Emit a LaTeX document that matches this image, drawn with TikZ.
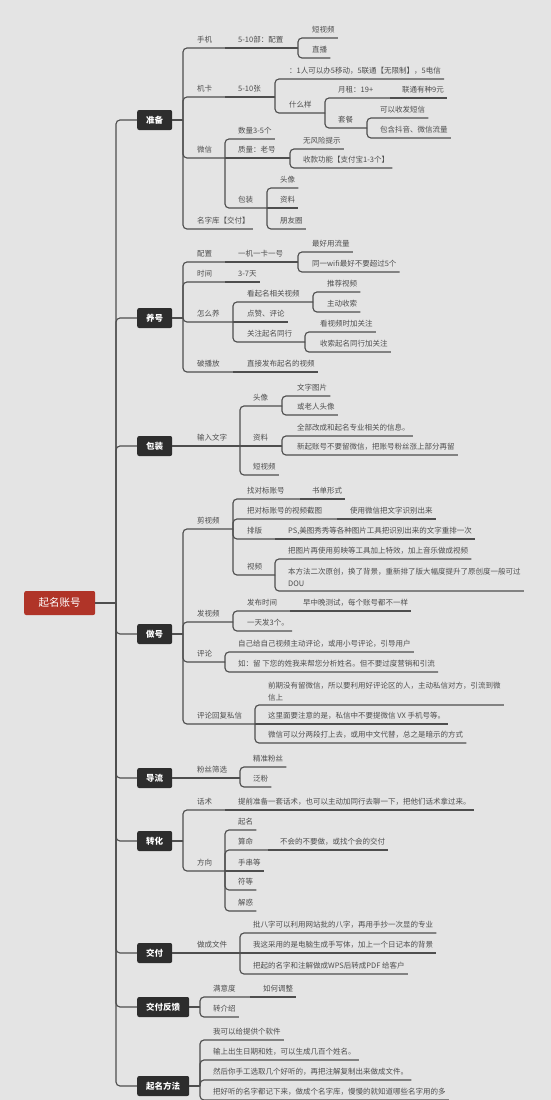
\documentclass[tikz,border=0pt]{standalone}
\usepackage{fontspec}
\setmainfont{Noto Sans CJK SC}
\usepackage{tikz}
\usepackage{xcolor}
\usetikzlibrary{calc}
\definecolor{bggray}{RGB}{228,228,228}
\definecolor{linegray}{RGB}{78,78,78}
\definecolor{textgray}{RGB}{78,78,78}
\definecolor{boxdark}{RGB}{45,45,45}
\definecolor{rootred}{RGB}{176,52,40}
\tikzset{
  nodetxt/.style={anchor=south west,inner xsep=0pt,inner ysep=5pt,font=\fontsize{7.5}{12}\selectfont,text=textgray},
  lbl/.style={nodetxt,text depth=0pt},
  lbl2/.style={nodetxt,align=left,inner ysep=4pt},
  catbox/.style={fill=boxdark,rounded corners=2pt,text=white,font=\fontsize{8.5}{10}\selectfont\bfseries,minimum height=20pt,inner xsep=9pt,anchor=west},
  rootbox/.style={fill=rootred,rounded corners=2pt,text=white,font=\fontsize{10.5}{12}\selectfont,minimum height=24pt,inner xsep=14.5pt,anchor=west},
  conn/.style={draw=linegray,line width=1.15pt,rounded corners=4pt}
}

\begin{document}
\begin{tikzpicture}[x=1pt,y=-1pt]
  \fill[bggray] (0,0) rectangle (551,1100);
  \useasboundingbox (0,0) rectangle (551,1100);
  \clip (0,0) rectangle (551,1100);

  \node[rootbox] (root) at (24,603) {起名账号};
  \node[catbox] (zb) at (137,120) {准备};
  \node[catbox] (yh) at (137,318) {养号};
  \node[catbox] (bz) at (137,446) {包装};
  \node[catbox] (zuo) at (137,634) {做号};
  \node[catbox] (dl) at (137,778) {导流};
  \node[catbox] (zhh) at (137,841) {转化};
  \node[catbox] (jf) at (137,953) {交付};
  \node[catbox] (fk) at (137,1007) {交付反馈};
  \node[catbox] (ff) at (137,1086) {起名方法};

  \coordinate (trunk) at (116,603);
  \draw[conn] (root.east) -- (trunk);
  \draw[conn] (trunk) |- (zb.west);
  \draw[conn] (trunk) |- (yh.west);
  \draw[conn] (trunk) |- (bz.west);
  \draw[conn] (trunk) |- (zuo.west);
  \draw[conn] (trunk) |- (dl.west);
  \draw[conn] (trunk) |- (zhh.west);
  \draw[conn] (trunk) |- (jf.west);
  \draw[conn] (trunk) |- (fk.west);
  \draw[conn] (trunk) |- (ff.west);

  \coordinate (zb-b) at (183,120);
  \coordinate (yh-b) at (183,318);
  \coordinate (bz-b) at (183,446);
  \coordinate (zuo-b) at (183,634);
  \coordinate (dl-b) at (183,778);
  \coordinate (zhh-b) at (183,841);
  \coordinate (jf-b) at (183,953);
  \coordinate (fk-b) at (200,1007);
  \coordinate (ff-b) at (200,1086);
  \draw[conn] (zb.east) -- (zb-b);
  \draw[conn] (yh.east) -- (yh-b);
  \draw[conn] (bz.east) -- (bz-b);
  \draw[conn] (zuo.east) -- (zuo-b);
  \draw[conn] (dl.east) -- (dl-b);
  \draw[conn] (zhh.east) -- (zhh-b);
  \draw[conn] (jf.east) -- (jf-b);
  \draw[conn] (fk.east) -- (fk-b);
  \draw[conn] (ff.east) -- (ff-b);

  \node[lbl] (sj) at (197,48) {手机};
  \node[lbl] (pz) at (238,48) {5-10部：配置};
  \node[lbl] (dsp) at (312,38) {短视频};
  \node[lbl] (zbo) at (312,58) {直播};
  \node[lbl] (jk) at (197,97) {机卡};
  \node[lbl] (zs) at (238,97) {5-10张};
  \node[lbl] (yr) at (289,79) {：1人可以办5移动，5联通【无限制】，5电信};
  \node[lbl] (smy) at (289,113) {什么样};
  \node[lbl] (yz) at (338,98) {月租：19+};
  \node[lbl] (lt) at (402,98) {联通有种9元};
  \node[lbl] (tc) at (338,128) {套餐};
  \node[lbl] (sfdx) at (380,118) {可以收发短信};
  \node[lbl] (bhdy) at (380,138) {包含抖音、微信流量};
  \node[lbl] (wx) at (197,158) {微信};
  \node[lbl] (sl) at (238,139) {数量3-5个};
  \node[lbl] (zl) at (238,158) {质量：老号};
  \node[lbl] (wfx) at (303,149) {无风险提示};
  \node[lbl] (sk) at (303,168) {收款功能【支付宝1-3个】};
  \node[lbl] (wxbz) at (238,208) {包装};
  \node[lbl] (tx) at (280,188) {头像};
  \node[lbl] (zliao) at (280,208) {资料};
  \node[lbl] (pyq) at (280,229) {朋友圈};
  \node[lbl] (mzk) at (197,229) {名字库【交付】};
  \coordinate (sj-b) at (225,48);
  \coordinate (pz-b) at (298,48);
  \coordinate (jk-b) at (225,97);
  \coordinate (zs-b) at (275,97);
  \coordinate (smy-b) at (325,113);
  \coordinate (yz-b) at (390,98);
  \coordinate (tc-b) at (367,128);
  \coordinate (wx-b) at (225,158);
  \coordinate (zl-b) at (290,158);
  \coordinate (wxbz-b) at (267,208);
  \draw[conn] (zb-b) |- (sj-b);
  \draw[conn] (sj-b) -- (pz-b);
  \draw[conn] (pz-b) |- ([xshift=3pt]dsp.south east);
  \draw[conn] (pz-b) |- ([xshift=3pt]zbo.south east);
  \draw[conn] (zb-b) |- (jk-b);
  \draw[conn] (jk-b) -- (zs-b);
  \draw[conn] (zs-b) |- ([xshift=3pt]yr.south east);
  \draw[conn] (zs-b) |- (smy-b);
  \draw[conn] (smy-b) |- (yz-b);
  \draw[conn] (yz-b) -- ([xshift=3pt]lt.south east);
  \draw[conn] (smy-b) |- (tc-b);
  \draw[conn] (tc-b) |- ([xshift=3pt]sfdx.south east);
  \draw[conn] (tc-b) |- ([xshift=3pt]bhdy.south east);
  \draw[conn] (zb-b) |- (wx-b);
  \draw[conn] (wx-b) |- ([xshift=3pt]sl.south east);
  \draw[conn] (wx-b) -- (zl-b);
  \draw[conn] (zl-b) |- ([xshift=3pt]wfx.south east);
  \draw[conn] (zl-b) |- ([xshift=3pt]sk.south east);
  \draw[conn] (wx-b) |- (wxbz-b);
  \draw[conn] (wxbz-b) |- ([xshift=3pt]tx.south east);
  \draw[conn] (wxbz-b) -- ([xshift=3pt]zliao.south east);
  \draw[conn] (wxbz-b) |- ([xshift=3pt]pyq.south east);
  \draw[conn] (zb-b) |- ([xshift=3pt]mzk.south east);

  \node[lbl] (yhpz) at (197,262) {配置};
  \node[lbl] (yjyk) at (238,262) {一机一卡一号};
  \node[lbl] (zhll) at (312,252) {最好用流量};
  \node[lbl] (wifi) at (312,272) {同一wifi最好不要超过5个};
  \node[lbl] (yhsj) at (197,282) {时间};
  \node[lbl] (tian) at (238,282) {3-7天};
  \node[lbl] (zmy) at (197,322) {怎么养};
  \node[lbl] (kqm) at (247,302) {看起名相关视频};
  \node[lbl] (tjsp) at (327,292) {推荐视频};
  \node[lbl] (zdss) at (327,312) {主动收索};
  \node[lbl] (dz) at (247,322) {点赞、评论};
  \node[lbl] (gz) at (247,342) {关注起名同行};
  \node[lbl] (kspj) at (320,332) {看视频时加关注};
  \node[lbl] (ssqm) at (320,352) {收索起名同行加关注};
  \node[lbl] (pbf) at (197,372) {破播放};
  \node[lbl] (zjfb) at (247,372) {直接发布起名的视频};
  \coordinate (yhpz-b) at (225,262);
  \coordinate (yjyk-b) at (298,262);
  \coordinate (yhsj-b) at (225,282);
  \coordinate (zmy-b) at (233,322);
  \coordinate (kqm-b) at (313,302);
  \coordinate (gz-b) at (305,342);
  \coordinate (pbf-b) at (233,372);
  \draw[conn] (yh-b) |- (yhpz-b);
  \draw[conn] (yhpz-b) -- (yjyk-b);
  \draw[conn] (yjyk-b) |- ([xshift=3pt]zhll.south east);
  \draw[conn] (yjyk-b) |- ([xshift=3pt]wifi.south east);
  \draw[conn] (yh-b) |- (yhsj-b);
  \draw[conn] (yhsj-b) -- ([xshift=3pt]tian.south east);
  \draw[conn] (yh-b) |- (zmy-b);
  \draw[conn] (zmy-b) |- (kqm-b);
  \draw[conn] (kqm-b) |- ([xshift=3pt]tjsp.south east);
  \draw[conn] (kqm-b) |- ([xshift=3pt]zdss.south east);
  \draw[conn] (zmy-b) -- ([xshift=3pt]dz.south east);
  \draw[conn] (zmy-b) |- (gz-b);
  \draw[conn] (gz-b) |- ([xshift=3pt]kspj.south east);
  \draw[conn] (gz-b) |- ([xshift=3pt]ssqm.south east);
  \draw[conn] (yh-b) |- (pbf-b);
  \draw[conn] (pbf-b) -- ([xshift=3pt]zjfb.south east);

  \node[lbl] (srwz) at (197,446) {输入文字};
  \node[lbl] (tx2) at (253,406) {头像};
  \node[lbl] (wztp) at (297,396) {文字图片};
  \node[lbl] (lrtx) at (297,415) {或老人头像};
  \node[lbl] (zl3) at (253,446) {资料};
  \node[lbl] (qbgc) at (297,436) {全部改成和起名专业相关的信息。};
  \node[lbl] (xqzh) at (297,455) {新起账号不要留微信，把账号粉丝涨上部分再留};
  \node[lbl] (dsp2) at (253,475) {短视频};
  \coordinate (srwz-b) at (240,446);
  \coordinate (tx2-b) at (282,406);
  \coordinate (zl3-b) at (282,446);
  \draw[conn] (bz-b) -- (srwz-b);
  \draw[conn] (srwz-b) |- (tx2-b);
  \draw[conn] (tx2-b) |- ([xshift=3pt]wztp.south east);
  \draw[conn] (tx2-b) |- ([xshift=3pt]lrtx.south east);
  \draw[conn] (srwz-b) -- (zl3-b);
  \draw[conn] (zl3-b) |- ([xshift=3pt]qbgc.south east);
  \draw[conn] (zl3-b) |- ([xshift=3pt]xqzh.south east);
  \draw[conn] (srwz-b) |- ([xshift=3pt]dsp2.south east);

  \node[lbl] (jsp) at (197,529) {剪视频};
  \node[lbl] (zdb) at (247,499) {找对标账号};
  \node[lbl] (sdxs) at (312,499) {书单形式};
  \node[lbl] (jt) at (247,519) {把对标账号的视频截图};
  \node[lbl] (sywx) at (350,519) {使用微信把文字识别出来};
  \node[lbl] (pb) at (247,539) {排版};
  \node[lbl] (ps) at (288,539) {PS,美图秀秀等各种图片工具把识别出来的文字重排一次};
  \node[lbl] (sp) at (247,575) {视频};
  \node[lbl] (jy) at (288,559) {把图片再使用剪映等工具加上特效，加上音乐做成视频};
  \node[lbl2] (ecyc) at (288,591) {本方法二次原创，换了背景，重新排了版大幅度提升了原创度一般可过\\DOU};
  \node[lbl] (fsp) at (197,622) {发视频};
  \node[lbl] (fbsj) at (247,611) {发布时间};
  \node[lbl] (zzw) at (303,611) {早中晚测试，每个账号都不一样};
  \node[lbl] (ytf) at (247,631) {一天发3个。};
  \node[lbl] (pl) at (197,662) {评论};
  \node[lbl] (zjg) at (238,652) {自己给自己视频主动评论，或用小号评论，引导用户};
  \node[lbl] (rl) at (238,672) {如：留 下您的姓我来帮您分析姓名。但不要过度营销和引流};
  \node[lbl] (plhf) at (197,724) {评论回复私信};
  \node[lbl2] (qq) at (268,705) {前期没有留微信，所以要利用好评论区的人，主动私信对方，引流到微\\信上};
  \node[lbl] (zlm) at (268,724) {这里面要注意的是，私信中不要提微信 VX 手机号等。};
  \node[lbl] (fld) at (268,743) {微信可以分两段打上去，或用中文代替，总之是暗示的方式};
  \coordinate (jsp-b) at (233,529);
  \coordinate (zdb-b) at (300,499);
  \coordinate (jt-b) at (337,519);
  \coordinate (pb-b) at (275,539);
  \coordinate (sp-b) at (275,575);
  \coordinate (fsp-b) at (233,622);
  \coordinate (fbsj-b) at (290,611);
  \coordinate (pl-b) at (225,662);
  \coordinate (plhf-b) at (255,724);
  \draw[conn] (zuo-b) |- (jsp-b);
  \draw[conn] (jsp-b) |- (zdb-b);
  \draw[conn] (zdb-b) -- ([xshift=3pt]sdxs.south east);
  \draw[conn] (jsp-b) |- (jt-b);
  \draw[conn] (jt-b) -- ([xshift=3pt]sywx.south east);
  \draw[conn] (jsp-b) |- (pb-b);
  \draw[conn] (pb-b) -- ([xshift=3pt]ps.south east);
  \draw[conn] (jsp-b) |- (sp-b);
  \draw[conn] (sp-b) |- ([xshift=3pt]jy.south east);
  \draw[conn] (sp-b) |- ([xshift=3pt]ecyc.south east);
  \draw[conn] (zuo-b) |- (fsp-b);
  \draw[conn] (fsp-b) |- (fbsj-b);
  \draw[conn] (fbsj-b) -- ([xshift=3pt]zzw.south east);
  \draw[conn] (fsp-b) |- ([xshift=3pt]ytf.south east);
  \draw[conn] (zuo-b) |- (pl-b);
  \draw[conn] (pl-b) |- ([xshift=3pt]zjg.south east);
  \draw[conn] (pl-b) |- ([xshift=3pt]rl.south east);
  \draw[conn] (zuo-b) |- (plhf-b);
  \draw[conn] (plhf-b) |- ([xshift=3pt]qq.south east);
  \draw[conn] (plhf-b) -- ([xshift=3pt]zlm.south east);
  \draw[conn] (plhf-b) |- ([xshift=3pt]fld.south east);

  \node[lbl] (fssx) at (197,778) {粉丝筛选};
  \node[lbl] (jzfs) at (253,767) {精准粉丝};
  \node[lbl] (fanf) at (253,787) {泛粉};
  \coordinate (fssx-b) at (240,778);
  \draw[conn] (dl-b) -- (fssx-b);
  \draw[conn] (fssx-b) |- ([xshift=3pt]jzfs.south east);
  \draw[conn] (fssx-b) |- ([xshift=3pt]fanf.south east);

  \node[lbl] (hs) at (197,810) {话术};
  \node[lbl] (tqzb) at (238,810) {提前准备一套话术，也可以主动加同行去聊一下，把他们话术拿过来。};
  \node[lbl] (fx) at (197,871) {方向};
  \node[lbl] (qm) at (238,830) {起名};
  \node[lbl] (sm) at (238,850) {算命};
  \node[lbl] (bhz) at (280,850) {不会的不要做，或找个会的交付};
  \node[lbl] (scd) at (238,871) {手串等};
  \node[lbl] (fdeng) at (238,890) {符等};
  \node[lbl] (jh) at (238,911) {解惑};
  \coordinate (hs-b) at (225,810);
  \coordinate (fx-b) at (225,871);
  \coordinate (sm-b) at (268,850);
  \draw[conn] (zhh-b) |- (hs-b);
  \draw[conn] (hs-b) -- ([xshift=3pt]tqzb.south east);
  \draw[conn] (zhh-b) |- (fx-b);
  \draw[conn] (fx-b) |- ([xshift=3pt]qm.south east);
  \draw[conn] (fx-b) |- (sm-b);
  \draw[conn] (sm-b) -- ([xshift=3pt]bhz.south east);
  \draw[conn] (fx-b) -- ([xshift=3pt]scd.south east);
  \draw[conn] (fx-b) |- ([xshift=3pt]fdeng.south east);
  \draw[conn] (fx-b) |- ([xshift=3pt]jh.south east);

  \node[lbl] (zcwj) at (197,953) {做成文件};
  \node[lbl] (pbz) at (253,933) {批八字可以利用网站批的八字，再用手抄一次显的专业};
  \node[lbl] (wzcy) at (253,953) {我这采用的是电脑生成手写体，加上一个日记本的背景};
  \node[lbl] (bqd) at (253,974) {把起的名字和注解做成WPS后转成PDF 给客户};
  \coordinate (zcwj-b) at (240,953);
  \draw[conn] (jf-b) -- (zcwj-b);
  \draw[conn] (zcwj-b) |- ([xshift=3pt]pbz.south east);
  \draw[conn] (zcwj-b) -- ([xshift=3pt]wzcy.south east);
  \draw[conn] (zcwj-b) |- ([xshift=3pt]bqd.south east);

  \node[lbl] (myd) at (213,997) {满意度};
  \node[lbl] (rhtz) at (263,997) {如何调整};
  \node[lbl] (zjs) at (213,1017) {转介绍};
  \coordinate (myd-b) at (250,997);
  \draw[conn] (fk-b) |- (myd-b);
  \draw[conn] (myd-b) -- ([xshift=3pt]rhtz.south east);
  \draw[conn] (fk-b) |- ([xshift=3pt]zjs.south east);

  \node[lbl] (rj) at (213,1040) {我可以给提供个软件};
  \node[lbl] (srcs) at (213,1060) {输上出生日期和姓，可以生成几百个姓名。};
  \node[lbl] (rhxq) at (213,1080) {然后你手工选取几个好听的，再把注解复制出来做成文件。};
  \node[lbl] (bhtm) at (213,1100) {把好听的名字都记下来，做成个名字库，慢慢的就知道哪些名字用的多};
  \draw[conn] (ff-b) |- ([xshift=3pt]rj.south east);
  \draw[conn] (ff-b) |- ([xshift=3pt]srcs.south east);
  \draw[conn] (ff-b) |- ([xshift=3pt]rhxq.south east);
  \draw[conn] (ff-b) |- ([xshift=3pt]bhtm.south east);
\end{tikzpicture}
\end{document}
